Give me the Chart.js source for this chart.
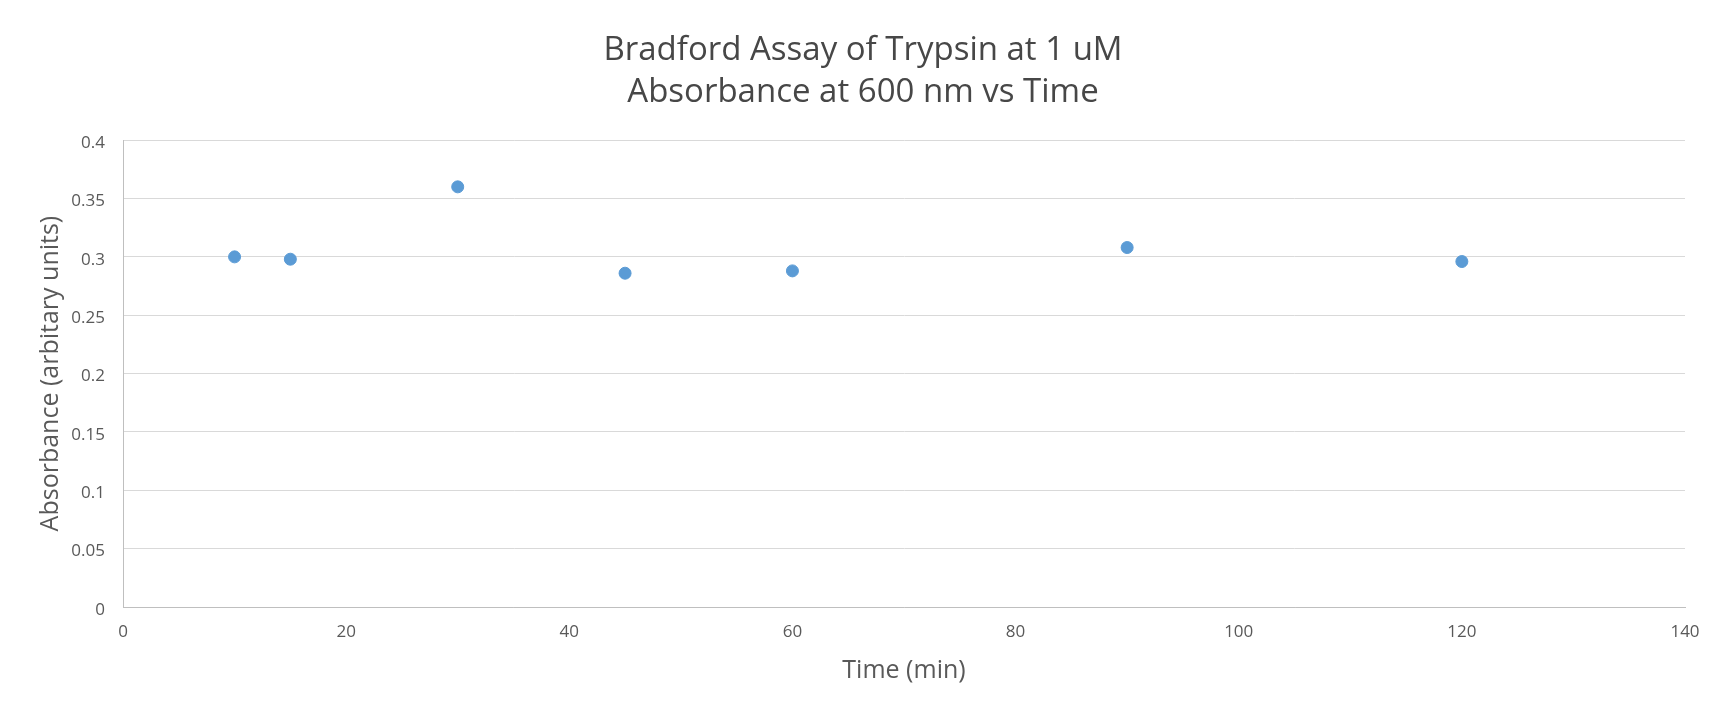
<!DOCTYPE html>
<html lang="en">
<head>
  <meta charset="UTF-8">
  <title>Bradford Assay of Trypsin</title>
  <script src="https://cdn.jsdelivr.net/npm/chart.js"></script>
  <style>
    * { margin: 0; padding: 0; box-sizing: border-box; }
    body { background: #fff; width: 1726px; height: 715px; overflow: hidden; }
    #wrap { width: 1726px; height: 715px; position: relative; }
  </style>
</head>
<body>
  <div id="wrap"><canvas id="chart"></canvas></div>
  <script>
    // data
    const times = [10, 15, 30, 45, 60, 90, 120];
    const absorbance = [0.300, 0.298, 0.360, 0.286, 0.288, 0.308, 0.296];
    const titleLines = ['Bradford Assay of Trypsin at 1 uM', 'Absorbance at 600 nm vs Time'];

    const font = "'Open Sans', sans-serif";
    const textColor = '#595959';

    const points = times.map((t, i) => ({ x: t, y: absorbance[i] }));

    new Chart(document.getElementById('chart'), {
      type: 'scatter',
      data: {
        datasets: [{
          label: 'Absorbance',
          data: points,
          backgroundColor: '#5b9bd5',
          borderColor: '#5b9bd5',
          pointRadius: 6,
          pointHoverRadius: 6
        }]
      },
      options: {
        responsive: true,
        maintainAspectRatio: false,
        animation: false,
        layout: { padding: 0 },
        plugins: {
          legend: { display: false },
          tooltip: { enabled: false },
          title: {
            display: true,
            text: titleLines,
            color: '#474747',
            font: { family: font, size: 33, weight: 'normal', lineHeight: 1.26 },
            padding: { top: 30, bottom: 27 }
          }
        },
        scales: {
          x: {
            type: 'linear',
            min: 0,
            max: 140,
            ticks: { stepSize: 20, color: textColor, font: { family: font, size: 17 }, padding: 15 },
            grid: { display: false, drawTicks: false },
            border: { display: true, color: '#bfbfbf' },
            title: {
              display: true,
              text: 'Time (min)',
              color: textColor,
              font: { family: font, size: 25 },
              padding: { top: 0, bottom: 29 }
            },
            afterFit: s => { s.height = 108; }
          },
          y: {
            min: 0,
            max: 0.4,
            ticks: {
              stepSize: 0.05,
              color: textColor,
              font: { family: font, size: 17 },
              padding: 18,
              labelOffset: 3,
              callback: v => String(parseFloat(v.toFixed(2)))
            },
            grid: { color: '#d9d9d9', drawTicks: false },
            border: { display: true, color: '#bfbfbf' },
            title: {
              display: true,
              text: 'Absorbance (arbitary units)',
              color: textColor,
              font: { family: font, size: 25 },
              padding: { top: 36, bottom: 0 }
            },
            afterFit: s => { s.width = 123; }
          },
          // empty right-hand gutter so the title stays centred on the page
          gutter: {
            type: 'linear',
            position: 'right',
            display: true,
            ticks: { display: false },
            grid: { display: false, drawTicks: false },
            border: { display: false },
            afterFit: s => { s.width = 41; }
          }
        }
      }
    });
  </script>
</body>
</html>
